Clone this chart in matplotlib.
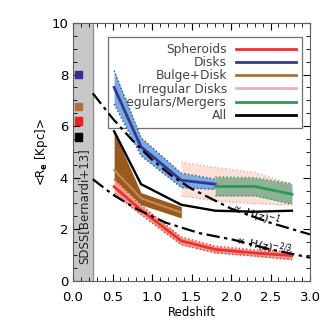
import numpy as np
import matplotlib
matplotlib.use("Agg")
import matplotlib.pyplot as plt
from matplotlib.ticker import MultipleLocator

# mean sizes per morphology
z_sph = [0.52, 0.86, 1.37, 1.80, 2.30, 2.77]
r_sph = [3.65, 2.75, 1.55, 1.22, 1.08, 0.98]
e_sph = [0.28, 0.18, 0.15, 0.13, 0.12, 0.15]

z_disk = [0.52, 0.86, 1.37, 1.80]
r_disk = [7.5, 5.2, 3.9, 3.75]
e_disk = [0.65, 0.35, 0.28, 0.2]

z_bd = [0.52, 0.86, 1.37]
r_bd = [4.3, 3.2, 2.65]
lo_bd = [3.94, 2.95, 2.44]
hi_bd = [5.78, 3.42, 2.88]

z_idisk = [1.37, 1.80, 2.30, 2.77]
r_idisk = [3.95, 3.75, 3.6, 3.35]
lo_idisk = [3.3, 3.1, 3.0, 2.95]
hi_idisk = [4.6, 4.4, 4.2, 3.75]

z_irr = [1.80, 2.30, 2.77]
r_irr = [3.66, 3.66, 3.36]
lo_irr = [3.3, 3.3, 2.98]
hi_irr = [4.03, 4.0, 3.76]

z_all = [0.52, 0.86, 1.37, 1.80, 2.30, 2.77]
r_all = [5.8, 3.75, 2.95, 2.72, 2.68, 2.72]

# scaling curves
z_h1 = [0.25, 0.5, 0.75, 1.0, 1.25, 1.5, 2.0, 2.5, 3.0]
r_h1 = [7.27, 6.3, 5.45, 4.7, 4.07, 3.57, 2.8, 2.25, 1.8]
z_h23 = [0.25, 0.5, 0.81, 1.17, 1.6, 2.02, 2.5, 3.0]
r_h23 = [3.94, 3.35, 2.78, 2.26, 1.85, 1.6, 1.22, 0.9]

# SDSS local values
sdss_vals = [8.0, 6.76, 6.2, 5.58]
sdss_cols = ["#2e3192", "#b07040", "#ee2020", "#000000"]

fig = plt.figure(figsize=(3.32, 3.32), dpi=100)
ax = fig.add_axes([0.22, 0.154, 0.714, 0.777])

ax.axvspan(0, 0.25, facecolor="#c8c8c8", edgecolor="none", zorder=0)
ax.axvline(0.25, color="#909090", lw=1, zorder=1)
ax.scatter([0.07] * 4, sdss_vals, marker="s", s=30, c=sdss_cols, zorder=3, clip_on=False)
ax.text(0.13, 2.9, "SDSS[Bernardi+13]", rotation=90, ha="center", va="center",
        fontsize=8.5, color="#222222")


def band(z, lo, hi, face, edge=None):
    ax.fill_between(z, lo, hi, color=face, lw=0, zorder=2)
    if edge:
        ax.plot(z, lo, ls=":", color=edge, lw=1, zorder=2)
        ax.plot(z, hi, ls=":", color=edge, lw=1, zorder=2)


band(z_idisk, lo_idisk, hi_idisk, "#fbe0d6", "#f2a0c0")
ax.plot(z_idisk, r_idisk, color="#f4a8c8", lw=2, zorder=2)

band(z_sph, np.subtract(r_sph, e_sph), np.add(r_sph, e_sph), "#f4a090", "#f03030")
band(z_bd, lo_bd, hi_bd, "#9a5a1e")
ax.plot(z_bd, r_bd, color="#c08a5a", lw=1.5, zorder=3)
band(z_disk, np.subtract(r_disk, e_disk), np.add(r_disk, e_disk), "#7aaade", "#3050b0")
band(z_irr, lo_irr, hi_irr, "#90b098", "#20a050")

ax.plot(z_sph, r_sph, color="#f03030", lw=2, zorder=4)
ax.plot(z_disk, r_disk, color="#303a90", lw=2, zorder=4)
ax.plot(z_irr, r_irr, color="#20a050", lw=2, zorder=4)
ax.plot(z_all, r_all, color="black", lw=1.7, zorder=4)

ax.plot(z_h1, r_h1, color="black", lw=1.6, ls=(0, (6, 2, 1.5, 2)), zorder=5)
ax.plot(z_h23, r_h23, color="black", lw=1.6, ls=(0, (6, 2, 1.5, 2)), zorder=5)
ax.text(2.3, 2.55, r"$\propto$ H(z)$^{-1}$", rotation=-18, ha="center", va="center", fontsize=8)
ax.text(2.4, 1.38, r"$\propto$ H(z)$^{-2/3}$", rotation=-12, ha="center", va="center", fontsize=8)

# legend proxies
names = ["Spheroids", "Disks", "Bulge+Disk", "Irregular Disks", "Irregulars/Mergers", "All"]
cols = ["#f03030", "#303a90", "#a86e40", "#f4a8c8", "#20a050", "black"]
handles = [plt.Line2D([], [], color=c, lw=2) for c in cols]
leg = ax.legend(handles, names, loc="upper right", bbox_to_anchor=(0.966, 0.946),
                borderaxespad=0, markerfirst=False, fancybox=False, fontsize=8.8,
                handlelength=4.9, handletextpad=0.75, labelspacing=0.02,
                borderpad=0.5, framealpha=1, edgecolor="#707070", labelcolor="#444444")
leg.get_frame().set_linewidth(0.9)
leg.set_zorder(1.5)

ax.set_xlim(0, 3.0)
ax.set_ylim(0, 10)
ax.xaxis.set_major_locator(MultipleLocator(0.5))
ax.xaxis.set_minor_locator(MultipleLocator(0.1))
ax.yaxis.set_major_locator(MultipleLocator(2))
ax.yaxis.set_minor_locator(MultipleLocator(0.5))
ax.tick_params(which="both", direction="in", top=True, right=True, labelsize=9.5)
ax.tick_params(axis="x", which="major", pad=7)
ax.tick_params(which="major", length=5)
ax.tick_params(which="minor", length=3)
for s in ax.spines.values():
    s.set_color("#606060")
ax.set_xlabel("Redshift", fontsize=8.5, labelpad=2)
ax.set_ylabel(r"<R$_{\bf e}$ [Kpc]>", fontsize=8.5, labelpad=1)

fig.savefig("out.png", dpi=100)
